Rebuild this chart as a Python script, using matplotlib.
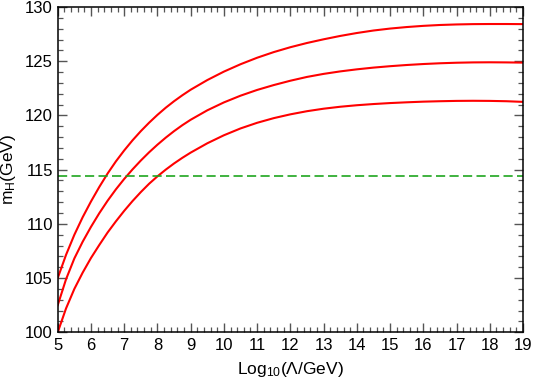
import matplotlib
matplotlib.use("Agg")
import matplotlib.pyplot as plt
from matplotlib.ticker import MultipleLocator

plt.rcParams["font.family"] = ["Liberation Sans", "DejaVu Sans"]
plt.rcParams["mathtext.default"] = "regular"

# log10(Lambda/GeV) sample points
log_lambda = [5.0, 5.25, 5.5, 5.75, 6.0, 6.25, 6.5, 6.75, 7.0, 7.25, 7.5, 7.75,
              8.0, 8.25, 8.5, 8.75, 9.0, 9.5, 10.0, 10.5, 11.0, 11.5, 12.0, 12.5,
              13.0, 13.5, 14.0, 14.5, 15.0, 15.5, 16.0, 16.5, 17.0, 17.5, 18.0, 18.5, 19.0]

mh_upper = [105.0, 107.14, 108.99, 110.61, 112.06, 113.40, 114.64, 115.76, 116.77, 117.70, 118.55, 119.33,
            120.05, 120.71, 121.31, 121.86, 122.37, 123.26, 124.04, 124.72, 125.32, 125.84, 126.29, 126.68,
            127.02, 127.33, 127.60, 127.83, 128.01, 128.15, 128.26, 128.34, 128.39, 128.42, 128.43, 128.43, 128.42]
mh_central = [102.5, 104.89, 106.81, 108.35, 109.72, 110.98, 112.13, 113.18, 114.14, 115.02, 115.84, 116.60,
              117.30, 117.95, 118.55, 119.10, 119.60, 120.47, 121.20, 121.82, 122.35, 122.80, 123.20, 123.55,
              123.83, 124.06, 124.25, 124.41, 124.54, 124.65, 124.74, 124.81, 124.86, 124.89, 124.90, 124.89, 124.87]
mh_lower = [100.0, 102.2, 104.0, 105.5, 106.85, 108.05, 109.2, 110.23, 111.2, 112.1, 112.93, 113.7,
            114.38, 115.0, 115.57, 116.09, 116.57, 117.43, 118.17, 118.8, 119.32, 119.75, 120.1, 120.39,
            120.62, 120.8, 120.94, 121.05, 121.14, 121.21, 121.27, 121.31, 121.34, 121.35, 121.34, 121.31, 121.25]

lep_bound = 114.4

fig = plt.figure(figsize=(5.33, 3.82), dpi=100)
ax = fig.add_axes([0.1083, 0.1301, 0.8729, 0.8516])

for curve in (mh_upper, mh_central, mh_lower):
    ax.plot(log_lambda, curve, color="#ff0000", lw=1.5, solid_joinstyle="round")

ax.axhline(lep_bound, color="#1fa51f", lw=1.2, dashes=(5.5, 2.6))

ax.set_xlim(5, 19)
ax.set_ylim(100, 130)
ax.xaxis.set_major_locator(MultipleLocator(1))
ax.xaxis.set_minor_locator(MultipleLocator(0.2))
ax.yaxis.set_major_locator(MultipleLocator(5))
ax.yaxis.set_minor_locator(MultipleLocator(1))

ax.tick_params(which="both", direction="in", top=True, right=True, color="#555555", labelsize=12)
ax.tick_params(which="major", length=6.5, width=1.0)
ax.tick_params(axis="x", which="major", pad=4)
ax.tick_params(which="minor", length=3.8, width=0.9)
for sp in ax.spines.values():
    sp.set_linewidth(1.1)

ax.set_xlabel("Log$_{10}$(Λ/GeV)", fontsize=12.5, labelpad=5)
ax.set_ylabel("m$_H$(GeV)", fontsize=12.5, labelpad=5)

fig.savefig("out.png", dpi=100)
